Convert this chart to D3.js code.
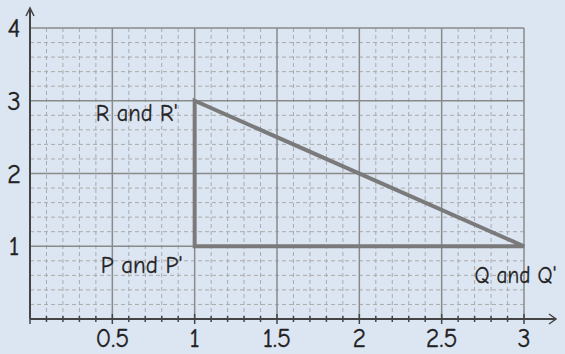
<!DOCTYPE html>
<html><head><meta charset="utf-8">
<script src="https://cdn.jsdelivr.net/npm/d3@7"></script>
<style>
html,body{margin:0;padding:0;background:#dce5f2;}
svg{display:block;}
text{font-family:"Comic Sans MS","Comic Neue",Lato,"DejaVu Sans",sans-serif;fill:#222;stroke:#222;stroke-width:0.3px;}
</style></head><body>
<svg id="c" width="565" height="354"></svg>
<script>
const xTicks = [0.5, 1, 1.5, 2, 2.5, 3];
const yTicks = [1, 2, 3, 4];
const triX = [1, 3, 1];
const triY = [1, 1, 3];
const pointLabels = ["P and P'", "Q and Q'", "R and R'"];
const labelX = [0.43, 2.7, 0.4];
const labelY = [0.63, 0.5, 2.72];

const svg = d3.select("#c");
const x = d3.scaleLinear().domain([0, 3]).range([30, 524]);
const y = d3.scaleLinear().domain([0, 4]).range([319, 28]);

const g = svg.append("g");
const isHalf = v => Math.abs(v * 2 - Math.round(v * 2)) < 1e-6;
const minorX = d3.range(1, 30).map(i => i / 10).filter(v => !isHalf(v));
const minorY = d3.range(1, 20).map(i => i / 5).filter(v => Math.abs(v - Math.round(v)) > 1e-6);
g.selectAll(".mx").data(minorX).join("line")
  .attr("x1", d => x(d)).attr("x2", d => x(d)).attr("y1", y(0)).attr("y2", y(4))
  .attr("stroke", "#ababab").attr("stroke-width", 1).attr("stroke-dasharray", "4,3");
g.selectAll(".my").data(minorY).join("line")
  .attr("y1", d => y(d)).attr("y2", d => y(d)).attr("x1", x(0)).attr("x2", x(3))
  .attr("stroke", "#ababab").attr("stroke-width", 1).attr("stroke-dasharray", "4,3");
g.selectAll(".Mx").data(xTicks).join("line")
  .attr("x1", d => x(d)).attr("x2", d => x(d)).attr("y1", y(0)).attr("y2", y(4))
  .attr("stroke", "#8a8a8a").attr("stroke-width", 1.5);
g.selectAll(".My").data(yTicks).join("line")
  .attr("y1", d => y(d)).attr("y2", d => y(d)).attr("x1", x(0)).attr("x2", x(3))
  .attr("stroke", "#8a8a8a").attr("stroke-width", 1.5);

const pts = triX.map((v, i) => [x(v), y(triY[i])]);
g.append("path").attr("d", d3.line()(pts) + "Z")
  .attr("fill", "none").attr("stroke", "#7a7a7a").attr("stroke-width", 4).attr("stroke-linejoin", "miter");

const ax = "#444";
g.append("line").attr("x1", x(0)).attr("x2", 556).attr("y1", y(0)).attr("y2", y(0)).attr("stroke", ax).attr("stroke-width", 2);
g.append("path").attr("d", `M549,${y(0)-5}L556,${y(0)}L549,${y(0)+5}`).attr("fill", "none").attr("stroke", ax).attr("stroke-width", 1.5);
g.append("line").attr("x1", x(0)).attr("x2", x(0)).attr("y1", y(0)).attr("y2", 8).attr("stroke", ax).attr("stroke-width", 2);
g.append("path").attr("d", `M${x(0)-4},16L${x(0)},8L${x(0)+4},16`).attr("fill", "none").attr("stroke", ax).attr("stroke-width", 1.5);

const allX = d3.range(0, 31).map(i => i / 10);
g.selectAll(".tk").data(allX).join("line")
  .attr("x1", d => x(d)).attr("x2", d => x(d))
  .attr("y1", d => y(0) - (isHalf(d) ? 5 : 3))
  .attr("y2", d => y(0) + (isHalf(d) ? 5 : 3))
  .attr("stroke", ax).attr("stroke-width", 1.5);

g.selectAll(".xl").data(xTicks).join("text")
  .attr("x", d => x(d)).attr("y", 347).attr("text-anchor", "middle")
  .attr("font-size", 26).text(d => d);
g.selectAll(".yl").data(yTicks).join("text")
  .attr("x", 14).attr("y", d => y(d) + 9).attr("text-anchor", "middle")
  .attr("font-size", 27).text(d => d);

g.selectAll(".pl").data(pointLabels).join("text")
  .attr("x", (d, i) => x(labelX[i])).attr("y", (d, i) => y(labelY[i]))
  .attr("font-size", 24).attr("textLength", 82)
  .attr("lengthAdjust", "spacingAndGlyphs")
  .text(d => d);
</script>
</body></html>
